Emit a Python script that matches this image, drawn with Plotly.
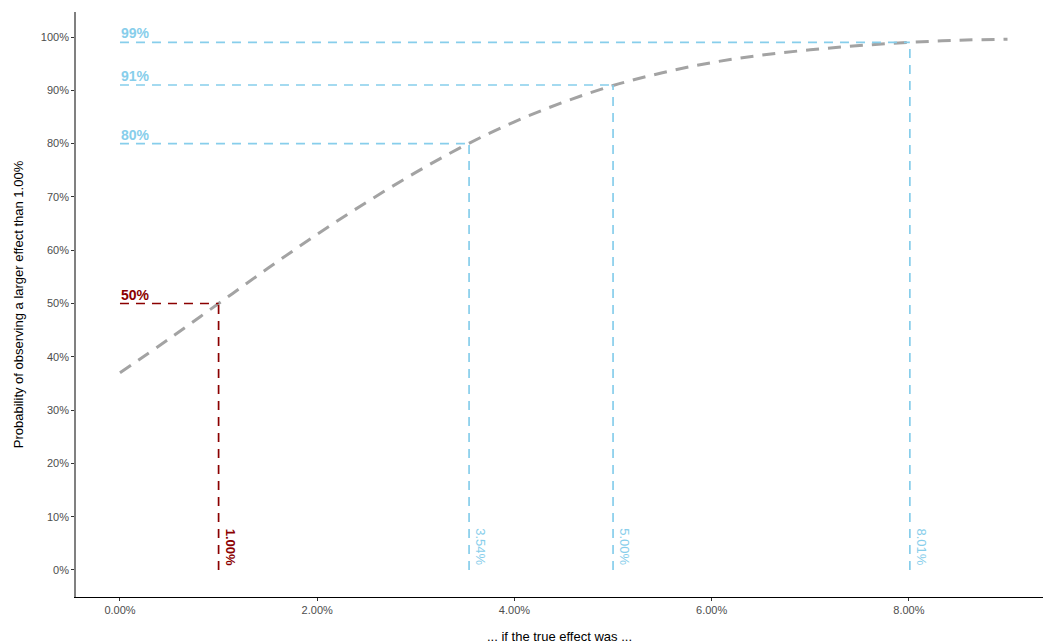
import plotly.graph_objects as go

# Probability of observing an effect larger than 1.00%, by true effect size (%)
true_effect = [0.0, 0.5, 1.0, 1.5, 2.0, 2.5, 3.0, 3.5, 4.0, 4.5,
               5.0, 5.5, 6.0, 6.5, 7.0, 7.5, 8.0, 8.5, 9.0]
prob_larger = [37.0, 43.4, 50.0, 56.6, 63.0, 69.0, 74.6, 79.7, 84.1, 87.8,
               90.9, 93.3, 95.2, 96.6, 97.6, 98.4, 99.0, 99.4, 99.6]

# Reference points marked on the curve
ref_effect = [1.00, 3.54, 5.00, 8.01]
ref_prob = [50, 80, 91, 99]
ref_effect_labels = ["1.00%", "3.54%", "5.00%", "8.01%"]
ref_prob_labels = ["50%", "80%", "91%", "99%"]
ref_colors = ["#8B0000", "#87CEEB", "#87CEEB", "#87CEEB"]
ref_bold = [True, False, False, False]

x_ticks = [0, 2, 4, 6, 8]
x_tick_labels = ["0.00%", "2.00%", "4.00%", "6.00%", "8.00%"]
y_ticks = [0, 10, 20, 30, 40, 50, 60, 70, 80, 90, 100]
y_tick_labels = [f"{v}%" for v in y_ticks]

FONT = "Liberation Sans, Arial, sans-serif"

fig = go.Figure()

fig.add_trace(go.Scatter(
    x=true_effect, y=prob_larger, mode="lines",
    line=dict(color="#A3A3A3", width=3, dash="13px,9px", shape="spline"),
    hoverinfo="skip", showlegend=False,
))

for xe, yp, xl, yl, col, bold in zip(ref_effect, ref_prob, ref_effect_labels,
                                     ref_prob_labels, ref_colors, ref_bold):
    # horizontal guide from the y axis to the curve
    fig.add_trace(go.Scatter(
        x=[0, xe], y=[yp, yp], mode="lines",
        line=dict(color=col, width=1.7, dash="9px,7px"),
        hoverinfo="skip", showlegend=False,
    ))
    # vertical guide from the x axis up to the curve
    fig.add_trace(go.Scatter(
        x=[xe, xe], y=[0, yp], mode="lines",
        line=dict(color=col, width=1.7, dash="9px,7px"),
        hoverinfo="skip", showlegend=False,
    ))
    fig.add_annotation(
        x=0, y=yp, text=f"<b>{yl}</b>", showarrow=False,
        xanchor="left", yanchor="bottom", xshift=-1, yshift=-1,
        font=dict(family=FONT, size=14, color=col),
    )
    fig.add_annotation(
        x=xe, y=8.2, text=f"<b>{xl}</b>" if bold else xl,
        showarrow=False, textangle=90,
        xanchor="left", yanchor="top", xshift=2,
        font=dict(family=FONT, size=13, color=col),
    )

fig.update_layout(
    width=1043, height=644,
    margin=dict(l=76, r=0, t=12, b=47),
    plot_bgcolor="white", paper_bgcolor="white",
    font=dict(family=FONT, color="#000000"),
    xaxis=dict(
        range=[-0.446, 9.36], tickvals=x_ticks, ticktext=x_tick_labels,
        showgrid=False, zeroline=False,
        showline=True, linecolor="#000000", linewidth=1.2,
        ticks="outside", ticklen=3, tickcolor="#333333", tickwidth=1,
        tickfont=dict(family=FONT, size=11, color="#4D4D4D"),
        title=dict(text="... if the true effect was ...", standoff=16,
                   font=dict(family=FONT, size=13, color="#000000")),
    ),
    yaxis=dict(
        range=[-5.07, 104.7], tickvals=y_ticks, ticktext=y_tick_labels,
        showgrid=False, zeroline=False,
        showline=True, linecolor="#808080", linewidth=1.6,
        ticks="outside", ticklen=3, tickcolor="#333333", tickwidth=1,
        tickfont=dict(family=FONT, size=11, color="#4D4D4D"),
        title=dict(text="Probability of observing a larger effect than 1.00%",
                   standoff=14,
                   font=dict(family=FONT, size=13, color="#000000")),
    ),
)

fig.write_html("out.html")
